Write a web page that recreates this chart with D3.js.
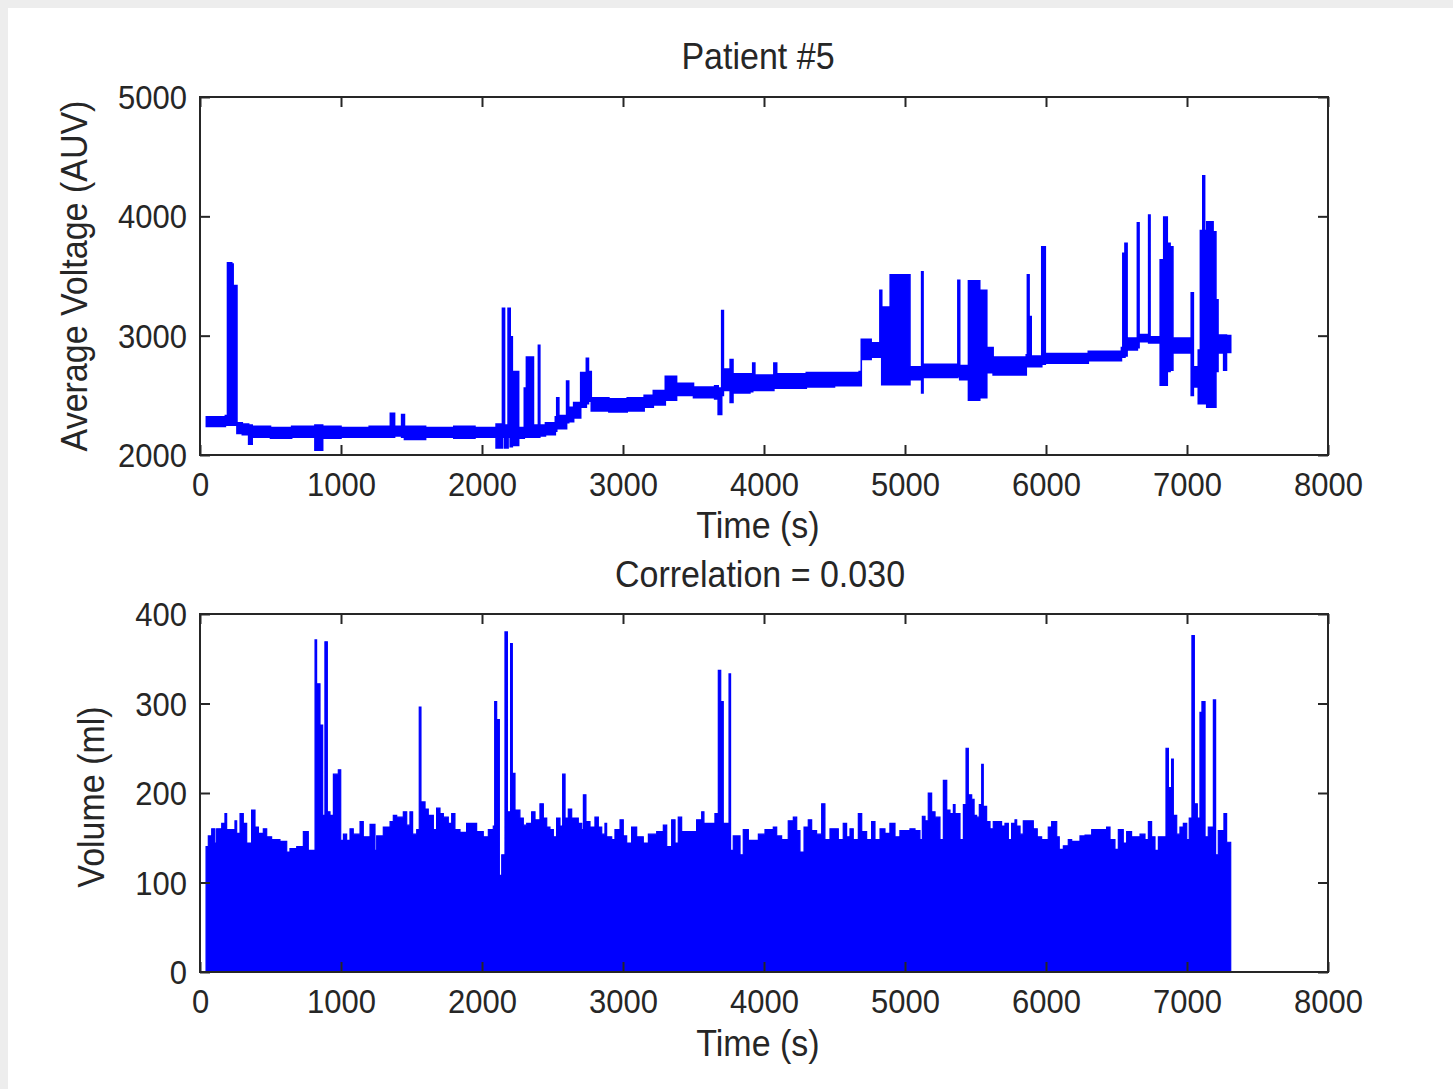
<!DOCTYPE html>
<html lang="en">
<head>
    <meta charset="UTF-8">
    <title>Patient #5</title>
    <script src="https://d3js.org/d3.v7.min.js"></script>
    <style>
        html, body { margin: 0; padding: 0; background: #ededed; }
        svg { display: block; }
        text { font-family: "Liberation Sans", Arial, sans-serif; fill: #262626; }
    </style>
</head>
<body>
    <svg width="1453" height="1089"></svg>

    <script type="text/javascript">
        // Voltage trace, stored as per-interval min/max (dense signal drawn as a band)
        const voltTime = [
            45, 180, 195, 225, 235, 262, 300, 345, 370, 500,
            650, 815, 870, 1000, 1200, 1350, 1380, 1430, 1450, 1600,
            1800, 1950, 2100, 2145, 2160, 2185, 2200, 2215, 2260, 2300,
            2315, 2365, 2400, 2410, 2450, 2520, 2530, 2545, 2600, 2615,
            2650, 2700, 2740, 2755, 2775, 2900, 3030, 3150, 3215, 3300,
            3380, 3500, 3650, 3675, 3700, 3712, 3760, 3780, 3900, 3920,
            3935, 4070, 4090, 4300, 4500, 4675, 4690, 4760, 4822, 4835,
            4895, 5035, 5118, 5128, 5375, 5388, 5450, 5530, 5580, 5625,
            5860, 5868, 5880, 5895, 5970, 5995, 6300, 6535, 6545, 6560,
            6575, 6648, 6660, 6728, 6738, 6810, 6835, 6860, 6880, 6900,
            7030, 7045, 7080, 7095, 7112, 7125, 7140, 7185, 7205, 7220,
            7260, 7280, 7310
        ];
        const voltLow = [
            2240, 2250, 2250, 2250, 2250, 2180, 2170, 2090, 2150, 2140,
            2150, 2040, 2140, 2150, 2150, 2150, 2160, 2150, 2130, 2150,
            2140, 2150, 2060, 2150, 2060, 2150, 2070, 2080, 2140, 2150,
            2150, 2150, 2150, 2160, 2170, 2200, 2220, 2220, 2270, 2280,
            2310, 2400, 2430, 2450, 2370, 2360, 2370, 2400, 2420, 2460,
            2500, 2480, 2470, 2340, 2500, 2540, 2440, 2520, 2530, 2540,
            2540, 2560, 2560, 2570, 2580, 2580, 2800, 2820, 2820, 2590,
            2590, 2630, 2520, 2650, 2660, 2630, 2460, 2480, 2690, 2670,
            2740, 2740, 2740, 2740, 2760, 2770, 2790, 2820, 2820, 2830,
            2880, 2900, 2950, 2940, 2940, 2585, 2585, 2700, 2710, 2855,
            2500, 2570, 2430, 2430, 2430, 2430, 2400, 2400, 2700, 2855,
            2710, 2860, 2860
        ];
        const voltHigh = [
            2320, 2330, 3610, 3600, 3420, 2270, 2260, 2250, 2240, 2230,
            2240, 2250, 2240, 2230, 2240, 2350, 2240, 2340, 2240, 2230,
            2240, 2230, 2260, 3230, 2250, 3230, 2990, 2700, 2230, 2560,
            2820, 2250, 2920, 2250, 2270, 2320, 2480, 2330, 2620, 2400,
            2440, 2690, 2810, 2700, 2480, 2470, 2480, 2500, 2540, 2660,
            2600, 2570, 2580, 2560, 3210, 2720, 2800, 2680, 2680, 2770,
            2670, 2770, 2680, 2690, 2690, 2700, 2970, 2940, 3380, 3240,
            3510, 2740, 3535, 2760, 3465, 2750, 3460, 3380, 2900, 2820,
            2840, 3510, 3160, 2830, 3745, 2850, 2870, 2900, 3690, 3775,
            2980, 3945, 3010, 4010, 2990, 3635, 3995, 3775, 3745, 2980,
            3360, 2740, 2880, 3880, 4340, 3880, 3955, 3870, 3300, 3005,
            3005, 3000, 3000
        ];

        // Volume trace, stored as the upper envelope of each interval
        const volTime = [
            43, 59, 83, 106, 118, 154, 177, 189, 248, 260,
            284, 307, 331, 366, 390, 414, 449, 473, 508, 567,
            615, 638, 686, 733, 768, 816, 827, 851, 870, 886,
            903, 922, 946, 981, 998, 1017, 1040, 1064, 1087, 1135,
            1158, 1206, 1241, 1253, 1300, 1348, 1371, 1395, 1442, 1466,
            1489, 1508, 1537, 1555, 1567, 1596, 1619, 1655, 1678, 1702,
            1726, 1761, 1785, 1808, 1844, 1891, 1962, 2009, 2045, 2080,
            2090, 2104, 2123, 2140, 2163, 2180, 2203, 2215, 2234, 2269,
            2293, 2317, 2352, 2376, 2411, 2435, 2459, 2482, 2506, 2529,
            2553, 2572, 2589, 2612, 2636, 2683, 2707, 2719, 2737, 2766,
            2801, 2825, 2849, 2872, 2884, 2920, 2943, 2979, 3002, 3026,
            3061, 3097, 3144, 3180, 3239, 3286, 3310, 3345, 3369, 3392,
            3416, 3522, 3558, 3574, 3652, 3676, 3693, 3711, 3752, 3763,
            3782, 3830, 3853, 3889, 3960, 4007, 4066, 4090, 4125, 4172,
            4208, 4232, 4255, 4284, 4314, 4338, 4373, 4409, 4432, 4468,
            4527, 4562, 4586, 4610, 4633, 4669, 4693, 4728, 4763, 4787,
            4823, 4858, 4893, 4929, 4964, 5035, 5071, 5106, 5123, 5142,
            5165, 5189, 5213, 5248, 5272, 5296, 5319, 5343, 5355, 5390,
            5414, 5433, 5449, 5473, 5490, 5508, 5527, 5544, 5555, 5579,
            5603, 5626, 5685, 5709, 5733, 5756, 5780, 5792, 5816, 5839,
            5910, 5938, 5969, 6016, 6040, 6076, 6094, 6123, 6158, 6182,
            6241, 6277, 6324, 6430, 6454, 6489, 6513, 6548, 6572, 6607,
            6667, 6702, 6726, 6749, 6773, 6797, 6851, 6868, 6891, 6903,
            6927, 6950, 6974, 6998, 7016, 7035, 7052, 7073, 7092, 7106,
            7128, 7151, 7187, 7203, 7222, 7262, 7281, 7310
        ];
        const volPeak = [
            140, 152, 160, 144, 160, 166, 177, 159, 169, 155,
            177, 166, 144, 181, 162, 155, 160, 151, 148, 146,
            134, 138, 140, 157, 136, 371, 322, 276, 175, 369,
            179, 175, 221, 226, 147, 154, 147, 160, 154, 168,
            151, 165, 136, 152, 162, 168, 175, 173, 179, 164,
            179, 154, 159, 296, 190, 182, 175, 159, 183, 177,
            173, 166, 177, 159, 156, 166, 157, 151, 159, 163,
            302, 282, 108, 131, 380, 179, 367, 222, 181, 172,
            164, 166, 179, 170, 188, 172, 162, 159, 151, 172,
            163, 221, 172, 182, 172, 166, 159, 198, 168, 162,
            173, 162, 154, 166, 151, 148, 159, 170, 152, 144,
            162, 151, 144, 154, 157, 164, 140, 170, 144, 173,
            157, 170, 179, 166, 177, 337, 302, 166, 333, 136,
            152, 131, 159, 147, 154, 159, 162, 152, 148, 169,
            173, 158, 134, 162, 170, 158, 154, 188, 148, 160,
            148, 166, 151, 160, 148, 177, 157, 148, 168, 148,
            160, 155, 166, 151, 158, 160, 158, 148, 174, 169,
            200, 179, 173, 148, 214, 181, 177, 187, 177, 148,
            187, 250, 198, 193, 175, 173, 187, 232, 185, 168,
            160, 168, 163, 166, 148, 166, 170, 163, 154, 169,
            160, 151, 148, 162, 168, 151, 137, 141, 148, 146,
            152, 153, 159, 162, 148, 137, 159, 144, 157, 151,
            154, 148, 168, 151, 136, 151, 250, 206, 238, 175,
            154, 162, 166, 148, 172, 376, 188, 172, 290, 302,
            151, 162, 304, 131, 158, 177, 145, 145
        ];

        const timeTicks = [0, 1000, 2000, 3000, 4000, 5000, 6000, 7000, 8000];
        const voltTicks = [2000, 3000, 4000, 5000];
        const volTicks = [0, 100, 200, 300, 400];

        const stretch = 1.1;   // the reference text is a bit taller than it is wide
        const tickFont = 31;
        const labelFont = 34;
        const ink = '#262626';

        const svg = d3.select('svg');

        // light grey border of the window, white figure area
        svg.append('rect').attr('x', 8).attr('y', 8)
            .attr('width', 1453 - 8).attr('height', 1089 - 8).attr('fill', '#fff');

        const x = d3.scaleLinear().domain([0, 8000]).range([200, 1328]);

        function drawFrame(y, ticks, top, bottom) {
            const g = svg.append('g');

            const styleTicks = sel => {
                sel.select('.domain').remove();
                sel.selectAll('.tick line').attr('stroke', ink).attr('stroke-width', 2);
            };

            // bottom axis with labels
            g.append('g')
                .attr('transform', `translate(0,${bottom})`)
                .call(d3.axisBottom(x).tickValues(timeTicks).tickSizeInner(-10).tickSizeOuter(0).tickFormat(d3.format('d')))
                .call(styleTicks)
                .call(sel => sel.selectAll('.tick text')
                    .attr('y', null).attr('dy', null)
                    .attr('transform', `translate(0,41) scale(1,${stretch})`)
                    .attr('font-size', tickFont).attr('fill', ink));

            // top axis, ticks only
            g.append('g')
                .attr('transform', `translate(0,${top})`)
                .call(d3.axisTop(x).tickValues(timeTicks).tickSizeInner(-10).tickSizeOuter(0).tickFormat(''))
                .call(styleTicks);

            // left axis with labels
            g.append('g')
                .attr('transform', 'translate(200,0)')
                .call(d3.axisLeft(y).tickValues(ticks).tickSizeInner(-10).tickSizeOuter(0).tickFormat(d3.format('d')))
                .call(styleTicks)
                .call(sel => sel.selectAll('.tick text')
                    .attr('x', null).attr('dy', null)
                    .attr('transform', `translate(-13,11.5) scale(1,${stretch})`)
                    .attr('font-size', tickFont).attr('fill', ink));

            // right axis, ticks only
            g.append('g')
                .attr('transform', 'translate(1328,0)')
                .call(d3.axisRight(y).tickValues(ticks).tickSizeInner(-10).tickSizeOuter(0).tickFormat(''))
                .call(styleTicks);

            g.append('rect')
                .attr('x', 200).attr('y', top)
                .attr('width', 1128).attr('height', bottom - top)
                .attr('fill', 'none').attr('stroke', ink).attr('stroke-width', 2);
            return g;
        }

        function label(txt, px, py, rotate, size) {
            svg.append('text')
                .attr('transform', `translate(${px},${py}) rotate(${rotate}) scale(1,${stretch})`)
                .attr('text-anchor', 'middle')
                .attr('font-size', size)
                .text(txt);
        }

        // ---- Top panel: voltage ----
        const yVolt = d3.scaleLinear().domain([2000, 5000]).range([455, 97]);
        const voltData = voltTime.map((t, i) => ({ t, lo: voltLow[i], hi: voltHigh[i] }));

        svg.append('path')
            .datum(voltData)
            .attr('fill', '#0000ff')
            .attr('stroke', '#0000ff')
            .attr('stroke-width', 1.6)
            .attr('stroke-linejoin', 'miter')
            .attr('d', d3.area()
                .curve(d3.curveStepAfter)
                .x(d => x(d.t))
                .y0(d => yVolt(d.lo))
                .y1(d => yVolt(d.hi)));

        drawFrame(yVolt, voltTicks, 97, 455);

        // ---- Bottom panel: volume ----
        const yVol = d3.scaleLinear().domain([0, 400]).range([972, 614]);
        const volData = volTime.map((t, i) => ({ t, v: volPeak[i] }));

        svg.append('path')
            .datum(volData)
            .attr('fill', '#0000ff')
            .attr('stroke', '#0000ff')
            .attr('stroke-width', 1.2)
            .attr('d', d3.area()
                .curve(d3.curveStepAfter)
                .x(d => x(d.t))
                .y0(yVol(0))
                .y1(d => yVol(d.v)));

        drawFrame(yVol, volTicks, 614, 972);

        // ---- Titles and axis labels ----
        label('Patient #5', 758, 69, 0, labelFont);
        label('Time (s)', 758, 538, 0, labelFont);
        label('Correlation = 0.030', 760, 587, 0, labelFont);
        label('Time (s)', 758, 1056, 0, labelFont);
        label('Average Voltage (AUV)', 87, 276, -90, labelFont);
        label('Volume (ml)', 104, 797, -90, labelFont);
    </script>
</body>
</html>
